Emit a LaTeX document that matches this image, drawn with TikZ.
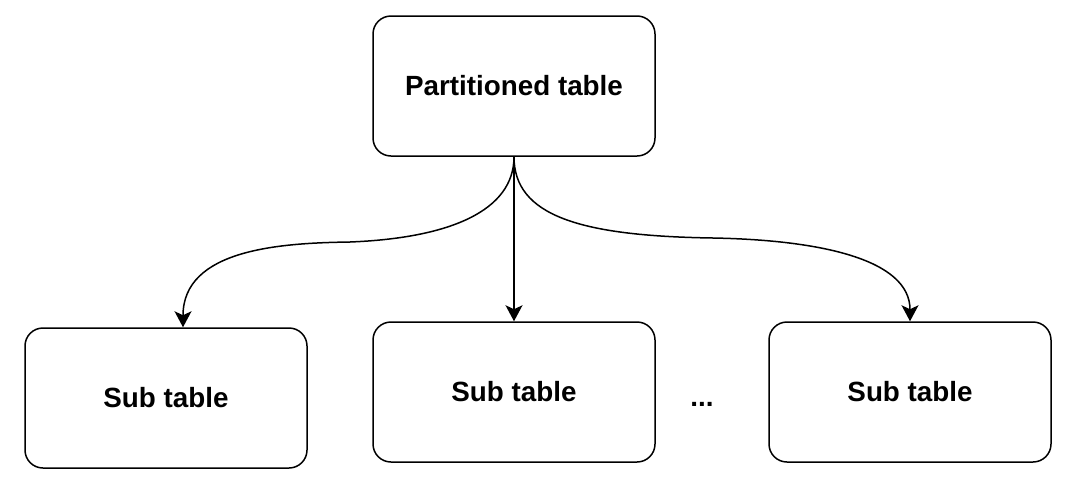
\documentclass[tikz,border=0pt]{standalone}
\usepackage{fontspec}
\setmainfont{Liberation Sans}
\usepackage{tikz}
\usetikzlibrary{calc,positioning,arrows.meta}

\begin{document}
\begin{tikzpicture}[x=0.5pt,y=-0.5pt,
        tbl/.style={draw, line width=0.75pt, rounded corners=9pt, minimum width=141pt, minimum height=70pt,
        font=\fontsize{13.9}{16}\selectfont\bfseries, inner sep=0pt},
        arr/.style={line width=0.75pt, -{Stealth[length=8pt,width=8.5pt,inset=2pt]}},
        ]
        \useasboundingbox (0,0) rectangle (1080,493);
        \node[tbl] (part) at (514,86) {Partitioned table};
        \node[tbl] (sub1) at (166,398) {Sub table};
        \node[tbl] (sub2) at (514,392) {Sub table};
        \node[tbl] (sub3) at (910,392) {Sub table};
        \node[font=\fontsize{13.9}{16}\selectfont\bfseries, inner sep=0pt] (dots) at (702,404) {...};
        % bends of the side connectors
        \coordinate (bendl) at (350,242);
        \coordinate (bendr) at (713,238);
        \draw[arr] (part.south) .. controls +(0,54) and +(100,-4) .. (bendl)
            .. controls +(-70,1) and +(0,-78) .. ([xshift=8.5pt]sub1.north);
        \draw[arr] (part.south) -- (sub2.north);
        \draw[arr] (part.south) .. controls +(0,59) and +(-133,-2) .. (bendr)
            .. controls +(107,2) and +(0,-62) .. (sub3.north);
\end{tikzpicture}
\end{document}
